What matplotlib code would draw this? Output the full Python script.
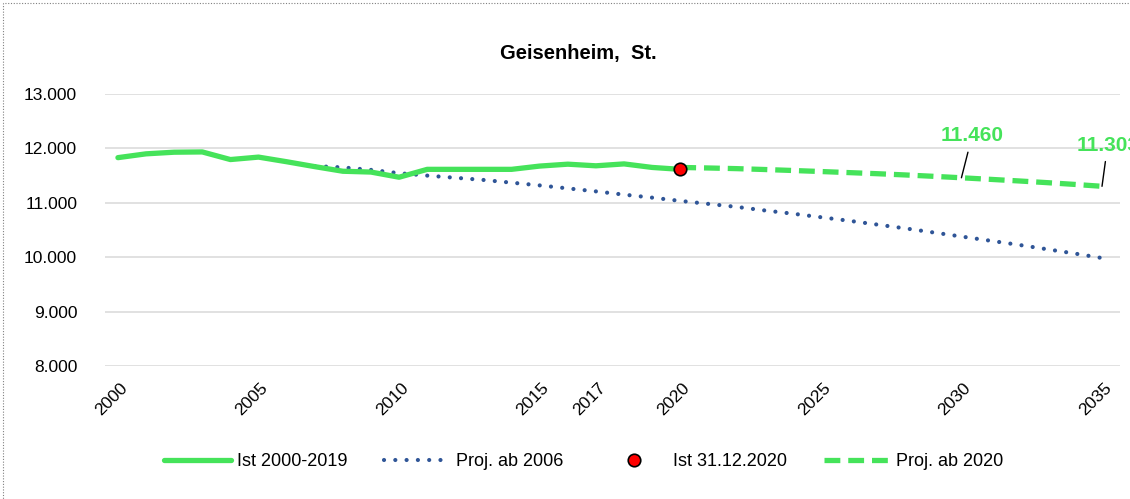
import matplotlib
matplotlib.use("Agg")
import matplotlib.pyplot as plt
from matplotlib.patches import Rectangle
from matplotlib.ticker import FuncFormatter
from matplotlib.transforms import ScaledTranslation

# Ist 2000-2020 (solid green)
ist_years = list(range(2000, 2021))
ist_values = [11830, 11900, 11930, 11935, 11795, 11840, 11755, 11665, 11580, 11565,
              11470, 11615, 11615, 11615, 11615, 11675, 11710, 11680, 11715, 11650, 11615]

# Projektion ab 2006 (dotted blue)
p06_years = list(range(2007, 2036))
p06_values = [11675, 11650, 11605, 11545, 11500, 11460, 11420, 11370, 11320, 11265,
              11210, 11150, 11095, 11035, 10980, 10925, 10860, 10800, 10735, 10670,
              10600, 10530, 10455, 10380, 10305, 10230, 10150, 10070, 9985]

# Projektion ab 2020 (dashed green)
p20_years = list(range(2020, 2036))
p20_values = [11650, 11640, 11628, 11612, 11594, 11575, 11555, 11535, 11512, 11487,
              11460, 11432, 11403, 11372, 11339, 11303]

ist_point_year = 2020
ist_point_value = 11615

xticks = [2000, 2005, 2010, 2015, 2017, 2020, 2025, 2030, 2035]
yticks = [8000, 9000, 10000, 11000, 12000, 13000]

GREEN = "#45E35A"
BLUE = "#2F5597"
FONT = "Liberation Sans"

W, H = 1130, 499
fig = plt.figure(figsize=(W / 100, H / 100), dpi=100)
ax = fig.add_axes([105 / W, 1 - 366 / H, (1120 - 105) / W, (366 - 94) / H])

ax.plot(ist_years, ist_values, color=GREEN, lw=3.8, solid_capstyle="round",
        label="Ist 2000-2019", zorder=3)
ax.plot(p06_years, p06_values, color=BLUE, lw=3.0, dashes=(0.01, 2.7),
        dash_capstyle="round", label="Proj. ab 2006", zorder=2)
ax.plot([ist_point_year], [ist_point_value], "o", color="#FF0000", ms=9,
        mec="black", mew=1.2, label="Ist 31.12.2020", zorder=5)
ax.plot(p20_years, p20_values, color=GREEN, lw=3.8, dashes=(3.0, 1.5),
        label="Proj. ab 2020", zorder=4)

# value labels with leader lines
for yr, txt_xy in [(2030, (2030.38, 12230)), (2035, (2035.2, 12060))]:
    val = p20_values[p20_years.index(yr)]
    ax.annotate(f"{val / 1000:.3f}", xy=(yr, val), xytext=txt_xy,
                ha="center", va="center", color=GREEN, fontsize=15,
                fontweight="bold", family=FONT, annotation_clip=False,
                arrowprops=dict(arrowstyle="-", color="black", lw=1,
                                shrinkA=3, shrinkB=0))

ax.set_xlim(1999.54, 2035.64)
ax.set_ylim(8000, 13000)
ax.set_xticks(xticks)
ax.set_yticks(yticks)
ax.yaxis.set_major_formatter(FuncFormatter(lambda v, p: f"{v / 1000:.3f}"))
ax.grid(axis="y", color="#D9D9D9", lw=1.1)
ax.set_axisbelow(True)
for s in ax.spines.values():
    s.set_visible(False)
ax.tick_params(axis="both", length=0, labelsize=12.5)
ax.tick_params(axis="y", pad=20)
ax.tick_params(axis="x", pad=8)
shift = ScaledTranslation(7 / 100, -8 / 100, fig.dpi_scale_trans)
for lab in ax.get_xticklabels():
    lab.set_rotation(45)
    lab.set_ha("right")
    lab.set_va("center")
    lab.set_rotation_mode("anchor")
    lab.set_family(FONT)
    lab.set_transform(lab.get_transform() + shift)
for lab in ax.get_yticklabels():
    lab.set_family(FONT)

fig.text(578 / W, 1 - 53 / H, "Geisenheim,  St.", ha="center", va="center",
         fontsize=14.5, fontweight="bold", family=FONT)

fig.legend(loc="center", bbox_to_anchor=(584 / W, 1 - 462 / H), ncol=4,
           frameon=False, prop={"family": FONT, "size": 13},
           handlelength=3.7, handletextpad=0.3, columnspacing=2.05)

# dotted chart-area border
fig.patches.append(Rectangle((3 / W, -0.05), 1.1, 1.05 - 3 / H,
                             transform=fig.transFigure, fill=False,
                             ec="#808080", lw=0.8, ls=(0, (1, 1.5))))

fig.savefig("out.png", dpi=100)
